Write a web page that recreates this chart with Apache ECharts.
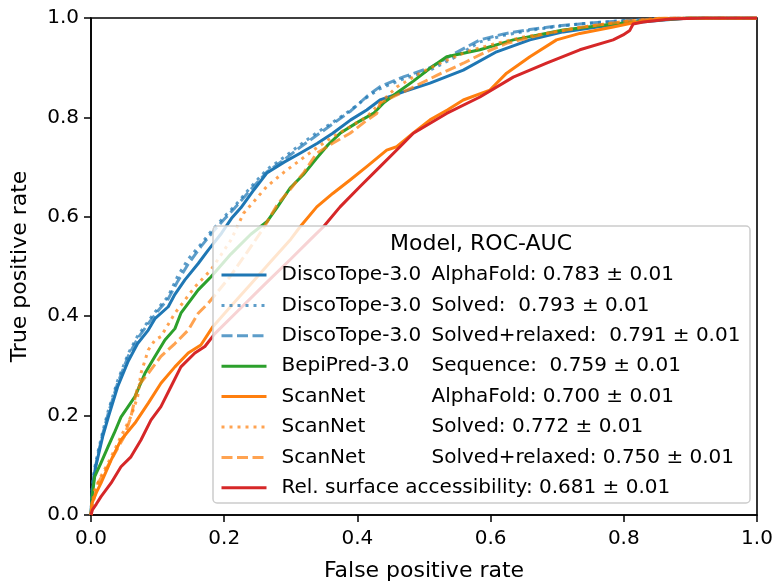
<!DOCTYPE html>
<html>
<head>
<meta charset="utf-8">
<script src="https://cdn.jsdelivr.net/npm/echarts@6/dist/echarts.min.js"></script>
<style>
html,body{margin:0;padding:0;background:#fff;}
#chart{width:777px;height:585px;}
</style>
</head>
<body>
<div id="chart"></div>
<script>
// ---- Data (FPR, TPR) ----
const discoTopeAlphaFold = [[0,0],[0.002,0.05],[0.006,0.09],[0.011,0.12],[0.018,0.16],[0.026,0.197],[0.04,0.258],[0.056,0.31],[0.07,0.345],[0.086,0.372],[0.096,0.395],[0.116,0.419],[0.126,0.444],[0.141,0.473],[0.161,0.506],[0.176,0.533],[0.196,0.567],[0.211,0.597],[0.225,0.618],[0.245,0.655],[0.264,0.688],[0.29,0.71],[0.314,0.728],[0.34,0.748],[0.363,0.768],[0.39,0.795],[0.414,0.815],[0.434,0.835],[0.47,0.852],[0.509,0.869],[0.559,0.895],[0.609,0.932],[0.659,0.956],[0.709,0.972],[0.76,0.982],[0.81,0.99],[0.86,0.996],[0.9,1],[1,1]];
const discoTopeSolved = [[0,0],[0.002,0.06],[0.0055,0.095],[0.011,0.13],[0.018,0.17],[0.026,0.21],[0.04,0.27],[0.056,0.325],[0.07,0.36],[0.086,0.39],[0.1,0.415],[0.116,0.44],[0.13,0.48],[0.146,0.515],[0.165,0.545],[0.18,0.57],[0.2,0.6],[0.216,0.622],[0.24,0.66],[0.264,0.695],[0.29,0.72],[0.314,0.745],[0.34,0.77],[0.363,0.79],[0.39,0.815],[0.414,0.84],[0.434,0.858],[0.47,0.878],[0.509,0.895],[0.545,0.92],[0.584,0.952],[0.62,0.965],[0.659,0.975],[0.7,0.983],[0.734,0.988],[0.8,0.995],[0.88,1],[1,1]];
const discoTopeRelaxed = [[0,0],[0.002,0.055],[0.0055,0.09],[0.011,0.125],[0.018,0.165],[0.026,0.205],[0.04,0.265],[0.056,0.32],[0.07,0.355],[0.086,0.385],[0.1,0.41],[0.116,0.435],[0.13,0.47],[0.146,0.505],[0.165,0.54],[0.18,0.565],[0.2,0.595],[0.216,0.618],[0.24,0.655],[0.264,0.69],[0.29,0.715],[0.314,0.74],[0.34,0.765],[0.363,0.787],[0.39,0.813],[0.414,0.842],[0.434,0.862],[0.47,0.882],[0.509,0.9],[0.545,0.928],[0.584,0.956],[0.62,0.968],[0.659,0.977],[0.7,0.984],[0.75,0.99],[0.82,0.996],[0.88,1],[1,1]];
const bepiPredSequence = [[0,0],[0.002,0.04],[0.0055,0.077],[0.015,0.105],[0.0255,0.137],[0.035,0.165],[0.045,0.197],[0.066,0.238],[0.081,0.285],[0.096,0.319],[0.111,0.352],[0.126,0.375],[0.135,0.406],[0.161,0.453],[0.18,0.479],[0.21,0.525],[0.24,0.565],[0.264,0.59],[0.28,0.62],[0.299,0.658],[0.319,0.685],[0.339,0.718],[0.356,0.745],[0.374,0.768],[0.4,0.79],[0.424,0.808],[0.44,0.83],[0.46,0.85],[0.484,0.873],[0.51,0.9],[0.534,0.922],[0.584,0.936],[0.634,0.956],[0.709,0.976],[0.784,0.988],[0.85,0.996],[0.9,1],[1,1]];
const scanNetAlphaFold = [[0,0],[0.0015,0.024],[0.008,0.045],[0.015,0.064],[0.03,0.11],[0.045,0.151],[0.066,0.185],[0.086,0.225],[0.105,0.265],[0.126,0.298],[0.146,0.326],[0.165,0.342],[0.183,0.379],[0.21,0.42],[0.24,0.465],[0.27,0.51],[0.3,0.555],[0.314,0.58],[0.339,0.62],[0.363,0.647],[0.389,0.674],[0.414,0.701],[0.444,0.734],[0.459,0.741],[0.485,0.77],[0.509,0.795],[0.535,0.815],[0.559,0.835],[0.599,0.855],[0.624,0.889],[0.659,0.922],[0.699,0.956],[0.734,0.969],[0.784,0.982],[0.809,0.989],[0.85,0.998],[0.9,1],[1,1]];
const scanNetSolved = [[0,0],[0.002,0.025],[0.0055,0.05],[0.015,0.078],[0.0255,0.104],[0.035,0.13],[0.045,0.158],[0.06,0.198],[0.07,0.238],[0.075,0.285],[0.086,0.332],[0.096,0.352],[0.105,0.359],[0.126,0.406],[0.156,0.459],[0.18,0.493],[0.21,0.553],[0.229,0.607],[0.264,0.661],[0.29,0.69],[0.314,0.714],[0.34,0.74],[0.363,0.761],[0.39,0.782],[0.414,0.801],[0.435,0.83],[0.459,0.861],[0.495,0.89],[0.534,0.915],[0.57,0.935],[0.609,0.949],[0.65,0.962],[0.684,0.969],[0.74,0.982],[0.8,0.993],[0.86,1],[1,1]];
const scanNetRelaxed = [[0,0],[0.002,0.02],[0.0105,0.064],[0.03,0.11],[0.05,0.158],[0.06,0.198],[0.07,0.258],[0.086,0.285],[0.105,0.319],[0.126,0.345],[0.146,0.372],[0.161,0.406],[0.176,0.426],[0.209,0.48],[0.235,0.53],[0.258,0.575],[0.28,0.625],[0.299,0.655],[0.32,0.69],[0.339,0.728],[0.363,0.748],[0.389,0.768],[0.41,0.79],[0.429,0.808],[0.434,0.829],[0.484,0.861],[0.52,0.885],[0.559,0.909],[0.59,0.93],[0.624,0.949],[0.684,0.969],[0.74,0.982],[0.8,0.993],[0.86,1],[1,1]];
const relSurfaceAccessibility = [[0,0],[0.002,0.01],[0.008,0.022],[0.015,0.037],[0.03,0.064],[0.045,0.097],[0.06,0.117],[0.075,0.151],[0.09,0.191],[0.105,0.218],[0.12,0.258],[0.135,0.298],[0.156,0.326],[0.171,0.339],[0.186,0.365],[0.22,0.41],[0.26,0.463],[0.3,0.515],[0.33,0.555],[0.349,0.58],[0.374,0.62],[0.404,0.661],[0.434,0.701],[0.464,0.741],[0.484,0.768],[0.534,0.808],[0.584,0.841],[0.634,0.881],[0.684,0.909],[0.734,0.936],[0.784,0.956],[0.799,0.966],[0.809,0.975],[0.814,0.988],[0.829,0.992],[0.87,0.998],[0.92,1],[1,1]];

const modelNames = ['DiscoTope-3.0','DiscoTope-3.0','DiscoTope-3.0','BepiPred-3.0','ScanNet','ScanNet','ScanNet','Rel. surface accessibility:'];
const inputLabels = ['AlphaFold: 0.783 \u00b1 0.01','Solved:  0.793 \u00b1 0.01','Solved+relaxed:  0.791 \u00b1 0.01','Sequence:  0.759 \u00b1 0.01','AlphaFold: 0.700 \u00b1 0.01','Solved: 0.772 \u00b1 0.01','Solved+relaxed: 0.750 \u00b1 0.01','0.681 \u00b1 0.01'];
const xTicks = [0, 0.2, 0.4, 0.6, 0.8, 1.0];
const yTicks = [0, 0.2, 0.4, 0.6, 0.8, 1.0];

const allData = [discoTopeAlphaFold, discoTopeSolved, discoTopeRelaxed, bepiPredSequence, scanNetAlphaFold, scanNetSolved, scanNetRelaxed, relSurfaceAccessibility];
const colors = ['#1f77b4','#1f77b4','#1f77b4','#2ca02c','#ff7f0e','#ff7f0e','#ff7f0e','#d62728'];
const dashes = ['solid',[3,5],[11,4.5],'solid','solid',[3,5],[11,4.5],'solid'];
const opacities = [1,0.72,0.72,1,1,0.72,0.72,1];

const FONT = 'DejaVu Sans';
const seriesKeys = allData.map((d,i)=>'s'+i);

const series = allData.map((d,i)=>({
  name: seriesKeys[i],
  type: 'line',
  data: d,
  symbol: 'none',
  showSymbol: false,
  z: 2,
  lineStyle: {color: colors[i], width: 3, type: dashes[i], opacity: opacities[i], cap: 'butt', join: 'round'},
  itemStyle: {color: colors[i], opacity: 0},
  emphasis: {disabled: true},
  animation: false
}));

const chart = echarts.init(document.getElementById('chart'), null, {renderer: 'canvas'});
chart.setOption({
  animation: false,
  backgroundColor: '#fff',
  textStyle: {fontFamily: FONT},
  grid: {left: 91, right: 20, top: 18, bottom: 70, containLabel: false, outerBoundsMode: 'none', show: true, borderColor: '#000', borderWidth: 1.6, backgroundColor: 'transparent'},
  xAxis: {
    type: 'value', min: 0, max: 1, interval: 0.2,
    name: 'False positive rate', nameLocation: 'middle', nameGap: 45,
    nameTextStyle: {fontFamily: FONT, fontSize: 22, color: '#000'},
    axisLine: {show: true, onZero: false, lineStyle: {color: '#000', width: 1.6}},
    axisTick: {show: true, inside: false, length: 7, lineStyle: {color: '#000', width: 1.5}},
    axisLabel: {fontFamily: FONT, fontSize: 20, color: '#000', margin: 14, formatter: v => xTicks.includes(+v.toFixed(1)) ? v.toFixed(1) : ''},
    splitLine: {show: false}
  },
  yAxis: {
    type: 'value', min: 0, max: 1, interval: 0.2,
    name: 'True positive rate', nameLocation: 'middle', nameGap: 60,
    nameTextStyle: {fontFamily: FONT, fontSize: 22, color: '#000'},
    axisLine: {show: true, onZero: false, lineStyle: {color: '#000', width: 1.6}},
    axisTick: {show: true, inside: false, length: 7, lineStyle: {color: '#000', width: 1.5}},
    axisLabel: {fontFamily: FONT, fontSize: 20, color: '#000', margin: 12, formatter: v => yTicks.includes(+v.toFixed(1)) ? v.toFixed(1) : ''},
    splitLine: {show: false}
  },
  graphic: [
    {type: 'rect', z: 3, shape: {x: 213, y: 226, width: 537, height: 277, r: 4},
     style: {fill: 'rgba(255,255,255,0.8)', stroke: '#cccccc', lineWidth: 1.5}},
    {type: 'text', z: 5, x: 481, y: 244,
     style: {text: 'Model, ROC-AUC', font: '22px "DejaVu Sans"', fill: '#000', textAlign: 'center', textVerticalAlign: 'middle'}}
  ],
  legend: {
    show: true, orient: 'vertical', left: 220, top: 265, padding: 0, itemGap: 10.4,
    itemWidth: 45, itemHeight: 14, z: 5,
    data: seriesKeys,
    selectedMode: false,
    itemStyle: {opacity: 0},
    lineStyle: {width: 3},
    textStyle: {
      fontFamily: FONT, fontSize: 20, color: '#000',
      rich: {
        a: {fontFamily: FONT, fontSize: 20, color: '#000', width: 150, padding: [0,0,0,10], lineHeight: 20},
        b: {fontFamily: FONT, fontSize: 20, color: '#000', lineHeight: 20},
        c: {fontFamily: FONT, fontSize: 20, color: '#000', padding: [0,0,0,10], lineHeight: 20}
      }
    },
    formatter: function(name){
      const i = seriesKeys.indexOf(name);
      if (i === 7) return '{c|' + modelNames[i] + ' ' + inputLabels[i] + '}';
      return '{a|' + modelNames[i] + '}{b|' + inputLabels[i] + '}';
    }
  },
  series: series
});
</script>
</body>
</html>
